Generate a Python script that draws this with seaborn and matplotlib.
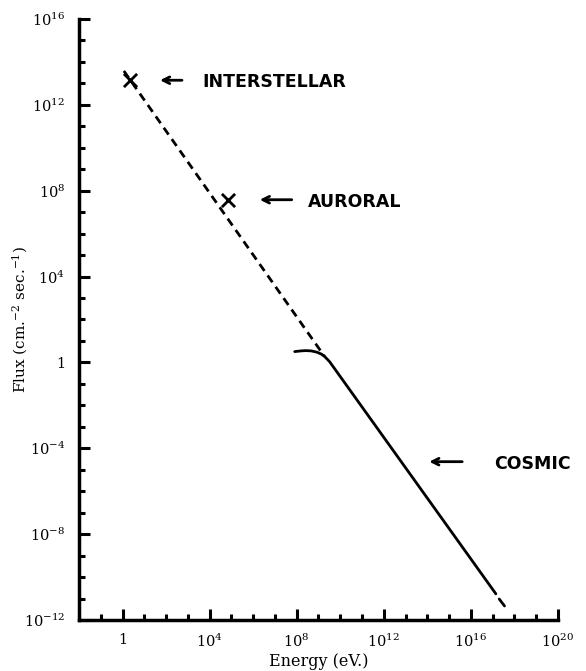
import numpy as np
import pandas as pd
import seaborn as sns
import matplotlib
matplotlib.use("Agg")
import matplotlib.pyplot as plt
from matplotlib.ticker import LogLocator, FuncFormatter, NullFormatter
from matplotlib.transforms import offset_copy

# values (eV, cm^-2 s^-1)
dashed_energy = [1.15, 1.9e9]
dashed_flux = [3.8e13, 1.9]

cosmic_energy = [8.1e7, 1.6e8, 2.6e8, 4.6e8, 8.5e8, 1.4e9, 1.9e9, 3.2e9, 1.4e17]
cosmic_flux = [3.2, 3.45, 3.55, 3.45, 3.0, 2.4, 1.9, 1.1, 1.66e-11]

extrap_energy = [2.0e17, 3.5e17]
extrap_flux = [9.5e-12, 4.5e-12]

marker_energy = [2.2, 6.8e4]
marker_flux = [1.4e13, 3.8e7]
marker_labels = ["INTERSTELLAR", "AURORAL"]

cosmic_label = "COSMIC"
cosmic_label_energy = 6.3e12

x_major = [1e0, 1e4, 1e8, 1e12, 1e16, 1e20]
y_major = [1e-12, 1e-8, 1e-4, 1e0, 1e4, 1e8, 1e12, 1e16]

sns.set_style("ticks", {"axes.edgecolor": "black", "text.color": "black",
                        "axes.labelcolor": "black", "xtick.color": "black",
                        "ytick.color": "black"})
plt.rcParams["font.family"] = ["DejaVu Serif"]
plt.rcParams["mathtext.fontset"] = "dejavuserif"

fig = plt.figure(figsize=(5.86, 6.71), dpi=100)
ax = fig.add_axes([0.1348, 0.076, 0.8174, 0.8957])

dashed = pd.DataFrame({"energy": dashed_energy, "flux": dashed_flux})
cosmic = pd.DataFrame({"energy": cosmic_energy, "flux": cosmic_flux})
extrap = pd.DataFrame({"energy": extrap_energy, "flux": extrap_flux})
marks = pd.DataFrame({"energy": marker_energy, "flux": marker_flux})

sns.lineplot(data=dashed, x="energy", y="flux", ax=ax, color="black", lw=2,
             sort=False, estimator=None, linestyle=(0, (3, 2)))
sns.lineplot(data=cosmic, x="energy", y="flux", ax=ax, color="black", lw=2,
             sort=False, estimator=None)
sns.lineplot(data=extrap, x="energy", y="flux", ax=ax, color="black", lw=2,
             sort=False, estimator=None)
sns.scatterplot(data=marks, x="energy", y="flux", ax=ax, marker="x", s=90,
                color="black", linewidth=2, zorder=5)

ax.set_xscale("log")
ax.set_yscale("log")
ax.set_xlim(1e-2, 1e20)
ax.set_ylim(1e-12, 1e16)


def fmt(v, pos):
    e = int(round(np.log10(v)))
    return "1" if e == 0 else r"$10^{%d}$" % e


ax.xaxis.set_major_locator(plt.FixedLocator(x_major))
ax.yaxis.set_major_locator(plt.FixedLocator(y_major))
ax.xaxis.set_minor_locator(LogLocator(base=10, subs=(1.0,), numticks=40))
ax.yaxis.set_minor_locator(LogLocator(base=10, subs=(1.0,), numticks=40))
ax.xaxis.set_major_formatter(FuncFormatter(fmt))
ax.yaxis.set_major_formatter(FuncFormatter(fmt))
ax.xaxis.set_minor_formatter(NullFormatter())
ax.yaxis.set_minor_formatter(NullFormatter())

ax.tick_params(which="major", direction="in", length=8, width=2.2, labelsize=10.5)
ax.tick_params(which="minor", direction="in", length=4, width=2.2)
ax.tick_params(axis="x", which="major", pad=9)
ax.tick_params(axis="y", which="major", pad=10)

sns.despine(ax=ax)
for s in ("left", "bottom"):
    ax.spines[s].set_linewidth(2.5)

ax.set_xlabel("Energy (eV.)", fontsize=11.5, labelpad=2)
ax.set_ylabel(r"Flux (cm.$^{-2}$ sec.$^{-1}$)", fontsize=11, va="center")
ax.yaxis.set_label_coords(-0.123, 0.5)

label_font = dict(family="DejaVu Sans", fontweight="bold", fontsize=12.5)


def arrow_label(e, f, text, head, tail, start):
    head_tr = offset_copy(ax.transData, fig=fig, x=head, y=0, units="dots")
    ax.annotate("", xy=(e, f), xycoords=head_tr, xytext=(tail - head, 0),
                textcoords="offset pixels",
                arrowprops=dict(arrowstyle="->", lw=2, color="black",
                                shrinkA=0, shrinkB=0, mutation_scale=12))
    ax.annotate(text, xy=(e, f), xytext=(start, 0), textcoords="offset pixels",
                ha="left", va="center_baseline", annotation_clip=False,
                **label_font)


arrow_label(marker_energy[0], marker_flux[0], marker_labels[0], 30, 52, 72)
arrow_label(marker_energy[1], marker_flux[1], marker_labels[1], 32, 64, 80)

lf = np.interp(np.log10(cosmic_label_energy), np.log10(cosmic_energy[-2:]),
               np.log10(cosmic_flux[-2:]))
arrow_label(cosmic_label_energy, 10 ** lf, cosmic_label, 28, 61, 93)

fig.savefig("out.png", dpi=100)
